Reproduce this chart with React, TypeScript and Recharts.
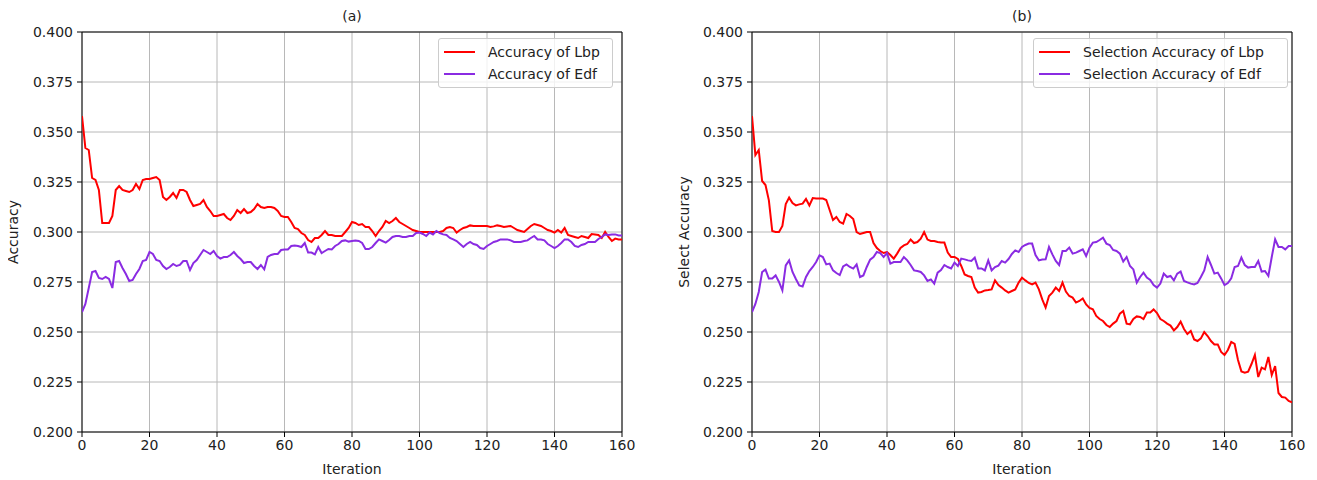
import React from "react";
import {
  LineChart,
  Line,
  XAxis,
  YAxis,
  CartesianGrid,
  Legend,
  ReferenceArea,
} from "recharts";

// iteration 0..160
const iterations = Array.from({ length: 161 }, (_, k) => k);

const xTicks = [0, 20, 40, 60, 80, 100, 120, 140, 160];
const yTicks = [0.2, 0.225, 0.25, 0.275, 0.3, 0.325, 0.35, 0.375, 0.4];

// (a) accuracy
const lbpAccuracy = [
  0.358, 0.342, 0.341, 0.327, 0.326, 0.321, 0.3045, 0.3045, 0.3045, 0.308,
  0.321, 0.323, 0.321, 0.3205, 0.32, 0.321, 0.324, 0.3215, 0.326, 0.3265,
  0.3265, 0.327, 0.3275, 0.326, 0.3175, 0.316, 0.3175, 0.3195, 0.317, 0.321,
  0.321, 0.32, 0.316, 0.313, 0.3135, 0.314, 0.316, 0.3125, 0.3105, 0.308,
  0.308, 0.3085, 0.309, 0.307, 0.306, 0.308, 0.311, 0.3095, 0.3115, 0.3095,
  0.31, 0.3115, 0.314, 0.3125, 0.312, 0.3125, 0.3125, 0.312, 0.3105, 0.308,
  0.3075, 0.3075, 0.305, 0.302, 0.3015, 0.2995, 0.2985, 0.296, 0.295, 0.297,
  0.297, 0.2985, 0.3005, 0.2985, 0.2985, 0.298, 0.298, 0.298, 0.3, 0.302,
  0.305, 0.3045, 0.3035, 0.304, 0.3025, 0.3025, 0.3005, 0.298, 0.3005, 0.3025,
  0.3055, 0.3045, 0.3055, 0.307, 0.305, 0.304, 0.303, 0.302, 0.301, 0.3005,
  0.3, 0.3, 0.3, 0.3, 0.3, 0.3, 0.3, 0.3005, 0.302, 0.3025,
  0.302, 0.2997, 0.301, 0.302, 0.3025, 0.3033, 0.303, 0.303, 0.303, 0.303,
  0.303, 0.3025, 0.3028, 0.3033, 0.303, 0.3025, 0.3028, 0.303, 0.302, 0.301,
  0.3005, 0.3, 0.3015, 0.303, 0.304, 0.3035, 0.303, 0.302, 0.301, 0.3005,
  0.2997, 0.301, 0.2997, 0.302, 0.2985, 0.298, 0.2975, 0.297, 0.298, 0.2975,
  0.297, 0.299, 0.2988, 0.2985, 0.297, 0.3, 0.2975, 0.2955, 0.2967, 0.2963,
  0.2963,
];
const edfAccuracy = [
  0.26, 0.264, 0.272, 0.28, 0.2805, 0.277, 0.2765, 0.2775, 0.2765, 0.272,
  0.285, 0.2855, 0.282, 0.279, 0.2755, 0.276, 0.279, 0.2815, 0.2855, 0.286,
  0.29, 0.289, 0.286, 0.2855, 0.283, 0.2815, 0.2825, 0.284, 0.283, 0.2835,
  0.2855, 0.2855, 0.281, 0.2845, 0.286, 0.2885, 0.291, 0.29, 0.289, 0.2905,
  0.288, 0.2867, 0.2875, 0.2875, 0.2885, 0.29, 0.288, 0.2865, 0.2845, 0.285,
  0.285, 0.283, 0.2815, 0.2835, 0.2813, 0.2875, 0.2885, 0.289, 0.289, 0.291,
  0.2913, 0.2913, 0.293, 0.2933, 0.293, 0.2925, 0.2945, 0.2897, 0.2897, 0.2888,
  0.2925, 0.2895, 0.2905, 0.2915, 0.2913, 0.293, 0.294, 0.2955, 0.2958, 0.2952,
  0.2955, 0.2958, 0.2955, 0.2945, 0.2915, 0.2915, 0.2925, 0.2945, 0.2963, 0.2955,
  0.2947, 0.296, 0.2975, 0.298, 0.298, 0.2975, 0.2975, 0.298, 0.298, 0.2995,
  0.2997, 0.299, 0.298, 0.2997, 0.2988, 0.3005, 0.2995, 0.2988, 0.2985, 0.297,
  0.2963, 0.2955, 0.294, 0.2925, 0.294, 0.295, 0.294, 0.2935, 0.292, 0.2915,
  0.293, 0.294, 0.295, 0.2955, 0.2963, 0.2963, 0.2963, 0.2958, 0.295, 0.295,
  0.295, 0.2955, 0.2958, 0.297, 0.298, 0.2963, 0.2962, 0.2958, 0.294, 0.293,
  0.292, 0.293, 0.2945, 0.2963, 0.2963, 0.295, 0.293, 0.2925, 0.2935, 0.294,
  0.295, 0.295, 0.295, 0.2965, 0.2975, 0.2988, 0.2985, 0.2988, 0.2988, 0.2983,
  0.2983,
];

// (b) selection accuracy
const lbpSelection = [
  0.358, 0.3385, 0.341, 0.3255, 0.3235, 0.3158, 0.3005, 0.3, 0.3, 0.303,
  0.314, 0.3172, 0.3145, 0.3133, 0.3138, 0.3142, 0.3165, 0.3133, 0.317, 0.3167,
  0.3167, 0.3167, 0.316, 0.311, 0.306, 0.3075, 0.305, 0.3042, 0.309, 0.308,
  0.3065, 0.3, 0.299, 0.2995, 0.3, 0.3, 0.2945, 0.292, 0.2905, 0.2895,
  0.29, 0.2885, 0.2867, 0.2892, 0.292, 0.2933, 0.294, 0.2962, 0.2945, 0.295,
  0.2967, 0.3, 0.2962, 0.2955, 0.2955, 0.295, 0.2947, 0.2947, 0.2897, 0.2875,
  0.2875, 0.2865, 0.283, 0.2788, 0.278, 0.2775, 0.2722, 0.2697, 0.27, 0.2708,
  0.271, 0.2713, 0.2758, 0.2735, 0.2722, 0.2708, 0.2697, 0.2705, 0.2713, 0.2747,
  0.2772, 0.2758, 0.2745, 0.2738, 0.2747, 0.2713, 0.2663, 0.2622, 0.268, 0.2697,
  0.2722, 0.2705, 0.2747, 0.2702, 0.268, 0.2672, 0.2647, 0.2655, 0.2668, 0.2638,
  0.262, 0.2613, 0.258, 0.2565, 0.2555, 0.2535, 0.2525, 0.2542, 0.2555, 0.2592,
  0.2605, 0.2542, 0.2538, 0.2565, 0.2578, 0.2575, 0.2565, 0.2597, 0.2597, 0.2613,
  0.2595, 0.2565, 0.2555, 0.2542, 0.2532, 0.2508, 0.2525, 0.2552, 0.2515, 0.249,
  0.2505, 0.2463, 0.2455, 0.2468, 0.25, 0.248, 0.2455, 0.2438, 0.2438, 0.24,
  0.2385, 0.241, 0.245, 0.244, 0.236, 0.2303, 0.2297, 0.2302, 0.234, 0.2385,
  0.2275, 0.2322, 0.2313, 0.2375, 0.2285, 0.233, 0.2195, 0.2175, 0.2172, 0.2155,
  0.2148,
];
const edfSelection = [
  0.26, 0.264, 0.27, 0.28, 0.2812, 0.2767, 0.2767, 0.2783, 0.275, 0.2708,
  0.2833, 0.2858, 0.28, 0.2765, 0.2733, 0.2728, 0.2775, 0.2805, 0.2825, 0.285,
  0.2883, 0.2875, 0.2838, 0.2842, 0.2808, 0.2795, 0.2785, 0.2828, 0.2838, 0.2825,
  0.2817, 0.2838, 0.2775, 0.2783, 0.2825, 0.2862, 0.2875, 0.29, 0.2895, 0.2875,
  0.2895, 0.2842, 0.285, 0.285, 0.285, 0.2875, 0.2858, 0.2835, 0.2808, 0.2805,
  0.28, 0.2783, 0.2755, 0.2763, 0.2742, 0.2797, 0.281, 0.2835, 0.2825, 0.2818,
  0.2847, 0.283, 0.2867, 0.2863, 0.2858, 0.2855, 0.2872, 0.2818, 0.2818, 0.2808,
  0.2858, 0.2808, 0.2825, 0.2832, 0.2855, 0.2847, 0.2865, 0.289, 0.2908, 0.29,
  0.2925, 0.2935, 0.2942, 0.2942, 0.2885, 0.2858, 0.2862, 0.2863, 0.2925, 0.2888,
  0.2855, 0.2835, 0.2905, 0.2905, 0.2922, 0.2892, 0.2897, 0.2905, 0.2913, 0.288,
  0.2922, 0.2947, 0.295, 0.296, 0.2972, 0.2942, 0.2935, 0.291, 0.2905, 0.2892,
  0.2852, 0.2875, 0.283, 0.2813, 0.2747, 0.2775, 0.2797, 0.2772, 0.276, 0.2735,
  0.2722, 0.2742, 0.2792, 0.2775, 0.278, 0.2758, 0.2792, 0.2802, 0.2755, 0.2748,
  0.2742, 0.2738, 0.2745, 0.2775, 0.2808, 0.2875, 0.2835, 0.2792, 0.2797, 0.2768,
  0.2735, 0.2745, 0.2768, 0.2825, 0.283, 0.2872, 0.2835, 0.2822, 0.2825, 0.2825,
  0.2855, 0.2802, 0.2805, 0.278, 0.2875, 0.2963, 0.2925, 0.2925, 0.2913, 0.293,
  0.293,
];

const RED = "#ff0000";
const PURPLE = "#8a2be2";
const FONT = "'DejaVu Sans', sans-serif";
const TEXT = "#222";
const FS = 14;

type PanelProps = {
  title: string;
  left: number;
  width: number;
  axisWidth: number;
  yLabel: string;
  yLabelOffset: number;
  lbp: number[];
  edf: number[];
  lbpName: string;
  edfName: string;
  legendLeft: number;
  legendWidth: number;
};

function LegendBox({ names }: { names: { label: string; color: string }[] }) {
  return (
    <div
      style={{
        border: "1px solid #cccccc",
        borderRadius: 3,
        background: "rgba(255,255,255,0.8)",
        padding: "2px 6px 2px 5px",
        fontFamily: FONT,
        fontSize: FS,
        color: TEXT,
      }}
    >
      {names.map((n) => (
        <div key={n.label} style={{ display: "flex", alignItems: "center", height: 22 }}>
          <svg width={31} height={4}>
            <line x1={0} y1={2} x2={31} y2={2} stroke={n.color} strokeWidth={2} />
          </svg>
          <span style={{ marginLeft: 13, whiteSpace: "nowrap" }}>{n.label}</span>
        </div>
      ))}
    </div>
  );
}

function Panel(p: PanelProps) {
  const rows = iterations.map((it, k) => ({ iteration: it, lbp: p.lbp[k], edf: p.edf[k] }));
  const names = [
    { label: p.lbpName, color: RED },
    { label: p.edfName, color: PURPLE },
  ];
  const plotWidth = 540;
  return (
    <div style={{ position: "absolute", left: p.left, top: 0 }}>
      <span
        style={{
          position: "absolute",
          left: p.axisWidth + plotWidth / 2,
          top: 0,
          transform: "translateX(-50%)",
          fontSize: FS,
          lineHeight: "16px",
          color: TEXT,
        }}
      >
        {p.title}
      </span>
      <LineChart
        width={p.width}
        height={472}
        data={rows}
        margin={{ top: 24, right: p.width - p.axisWidth - plotWidth, left: 0, bottom: 6 }}
      >
        <CartesianGrid stroke="#b8b8b8" strokeWidth={1} />
        <XAxis
          dataKey="iteration"
          type="number"
          domain={[0, 160]}
          ticks={xTicks}
          allowDataOverflow
          height={42}
          tickSize={5}
          tickMargin={3}
          axisLine={false}
          tickLine={{ stroke: "#000" }}
          tick={{ fill: TEXT, fontSize: FS }}
          label={{ value: "Iteration", position: "insideBottom", offset: 0, fill: TEXT, fontSize: FS }}
        />
        <YAxis
          type="number"
          domain={[0.2, 0.4]}
          ticks={yTicks}
          allowDataOverflow
          width={p.axisWidth}
          tickSize={5}
          tickMargin={4}
          axisLine={false}
          tickLine={{ stroke: "#000" }}
          tick={{ fill: TEXT, fontSize: FS }}
          tickFormatter={(v: number) => v.toFixed(3)}
          label={{
            value: p.yLabel,
            angle: -90,
            position: "insideLeft",
            offset: p.yLabelOffset,
            fill: TEXT,
            fontSize: FS,
            style: { textAnchor: "middle" },
          }}
        />
        <Line
          type="linear"
          dataKey="lbp"
          name={p.lbpName}
          stroke={RED}
          strokeWidth={2}
          dot={false}
          isAnimationActive={false}
        />
        <Line
          type="linear"
          dataKey="edf"
          name={p.edfName}
          stroke={PURPLE}
          strokeWidth={2}
          dot={false}
          isAnimationActive={false}
        />
        <ReferenceArea
          x1={0}
          x2={160}
          y1={0.2}
          y2={0.4}
          fill="none"
          stroke="#000"
          strokeWidth={1}
          ifOverflow="visible"
        />
        <Legend
          layout="horizontal"
          verticalAlign="middle"
          align="center"
          wrapperStyle={{ left: p.legendLeft, top: 30, width: p.legendWidth }}
          content={() => <LegendBox names={names} />}
        />
      </LineChart>
    </div>
  );
}

export default function App() {
  return (
    <div style={{ position: "relative", width: 1300, height: 472, fontFamily: FONT, background: "#fff" }}>
      <Panel
        title="(a)"
        left={-4}
        width={644}
        axisWidth={78}
        yLabel="Accuracy"
        yLabelOffset={9}
        lbp={lbpAccuracy}
        edf={edfAccuracy}
        lbpName="Accuracy of Lbp"
        edfName="Accuracy of Edf"
        legendLeft={434}
        legendWidth={175}
      />
      <Panel
        title="(b)"
        left={666}
        width={640}
        axisWidth={78}
        yLabel="Select Accuracy"
        yLabelOffset={10}
        lbp={lbpSelection}
        edf={edfSelection}
        lbpName="Selection Accuracy of Lbp"
        edfName="Selection Accuracy of Edf"
        legendLeft={359}
        legendWidth={255}
      />
    </div>
  );
}
